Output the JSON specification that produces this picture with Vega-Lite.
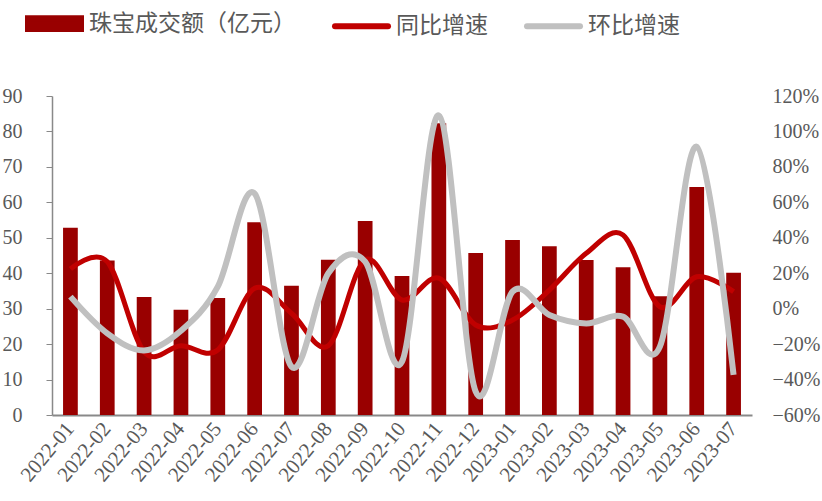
{
  "$schema": "https://vega.github.io/schema/vega-lite/v6.json",
  "width": 700,
  "height": 319,
  "autosize": {"type": "none"},
  "padding": {"left": 52, "top": 96, "right": 70, "bottom": 86},
  "background": "white",
  "config": {"view": {"stroke": null}, "font": "Liberation Serif"},
  "data": {"values": [
    {"month": "2022-01", "amount": 52.8, "yoy": 0.224, "mom": 0.068},
    {"month": "2022-02", "amount": 43.6, "yoy": 0.265, "mom": -0.139},
    {"month": "2022-03", "amount": 33.3, "yoy": -0.243, "mom": -0.236},
    {"month": "2022-04", "amount": 29.7, "yoy": -0.209, "mom": -0.125},
    {"month": "2022-05", "amount": 33.0, "yoy": -0.233, "mom": 0.124},
    {"month": "2022-06", "amount": 54.4, "yoy": 0.115, "mom": 0.65},
    {"month": "2022-07", "amount": 36.5, "yoy": -0.026, "mom": -0.327},
    {"month": "2022-08", "amount": 43.8, "yoy": -0.209, "mom": 0.2},
    {"month": "2022-09", "amount": 54.7, "yoy": 0.275, "mom": 0.265},
    {"month": "2022-10", "amount": 39.2, "yoy": 0.049, "mom": -0.299},
    {"month": "2022-11", "amount": 82.3, "yoy": 0.172, "mom": 1.09},
    {"month": "2022-12", "amount": 45.7, "yoy": -0.092, "mom": -0.468},
    {"month": "2023-01", "amount": 49.4, "yoy": -0.064, "mom": 0.096},
    {"month": "2023-02", "amount": 47.6, "yoy": 0.105, "mom": -0.036},
    {"month": "2023-03", "amount": 43.7, "yoy": 0.312, "mom": -0.083},
    {"month": "2023-04", "amount": 41.7, "yoy": 0.416, "mom": -0.045},
    {"month": "2023-05", "amount": 33.5, "yoy": 0.011, "mom": -0.214},
    {"month": "2023-06", "amount": 64.3, "yoy": 0.18, "mom": 0.914},
    {"month": "2023-07", "amount": 40.1, "yoy": 0.096, "mom": -0.374}
  ]},
  "encoding": {
    "x": {
      "field": "month", "type": "ordinal",
      "scale": {"paddingInner": 0.6, "paddingOuter": 0.3},
      "axis": {
        "title": null, "labelAngle": -50, "labelAlign": "right", "labelBaseline": "middle",
        "labelFontSize": 21, "labelColor": "#595959", "labelFont": "Liberation Serif",
        "ticks": false, "domainColor": "#898989", "domainWidth": 2, "labelPadding": 10,
        "labelOverlap": false
      }
    }
  },
  "layer": [
    {
      "mark": {"type": "bar"},
      "encoding": {
        "y": {
          "field": "amount", "type": "quantitative",
          "scale": {"domain": [0, 90], "nice": false},
          "axis": {
            "title": null, "orient": "left", "grid": false,
            "values": [0, 10, 20, 30, 40, 50, 60, 70, 80, 90],
            "tickSize": 6, "tickColor": "#898989", "domainColor": "#898989", "domainWidth": 1.5,
            "labelFontSize": 20, "labelColor": "#595959", "labelFont": "Liberation Serif", "labelPadding": 24,
            "labelOverlap": false
          }
        },
        "color": {
          "datum": "珠宝成交额（亿元）",
          "scale": {
            "domain": ["珠宝成交额（亿元）", "同比增速", "环比增速"],
            "range": ["#990000", "#C00000", "#C0C0C0"]
          },
          "legend": {
            "orient": "none", "legendX": -27, "legendY": -102, "direction": "horizontal",
            "title": null, "padding": 0, "columnPadding": 27,
            "labelFont": "Noto Sans CJK SC", "labelFontSize": 23, "labelColor": "#595959", "labelOffset": 5,
            "labelLimit": 400,
            "symbolSize": 2809, "symbolType": "M-1,0H1", "symbolStrokeWidth": 6,
            "encode": {
              "symbols": {
                "update": {
                  "shape": {"signal": "datum.value === '珠宝成交额（亿元）' ? 'M-1,-0.2H1V0.2H-1Z' : 'M-1,0H1'"},
                  "fill": {"signal": "datum.value === '珠宝成交额（亿元）' ? '#990000' : 'transparent'"},
                  "stroke": {"signal": "datum.value === '珠宝成交额（亿元）' ? 'transparent' : (datum.value === '同比增速' ? '#C00000' : '#C0C0C0')"},
                  "strokeWidth": {"value": 6},
                  "strokeCap": {"value": "round"},
                  "opacity": {"value": 1}
                }
              }
            }
          }
        }
      }
    },
    {
      "layer": [
        {
          "mark": {"type": "line", "interpolate": "cardinal", "strokeWidth": 5},
          "encoding": {
            "y": {
              "field": "yoy", "type": "quantitative",
              "scale": {"domain": [-0.6, 1.2], "nice": false},
              "axis": {
                "title": null, "orient": "right", "grid": false, "format": ".0%",
                "values": [-0.6, -0.4, -0.2, 0, 0.2, 0.4, 0.6, 0.8, 1.0, 1.2],
                "domain": false, "ticks": false, "tickSize": 0,
                "labelFontSize": 20, "labelColor": "#595959", "labelFont": "Liberation Serif",
                "labelPadding": 20, "labelAlign": "left", "labelOverlap": false
              }
            },
            "color": {"datum": "同比增速"}
          }
        },
        {
          "mark": {"type": "line", "interpolate": "cardinal", "strokeWidth": 6},
          "encoding": {
            "y": {
              "field": "mom", "type": "quantitative",
              "axis": {
                "title": null, "orient": "right", "grid": false, "format": ".0%",
                "values": [-0.6, -0.4, -0.2, 0, 0.2, 0.4, 0.6, 0.8, 1.0, 1.2],
                "domain": false, "ticks": false, "tickSize": 0,
                "labelFontSize": 20, "labelColor": "#595959", "labelFont": "Liberation Serif",
                "labelPadding": 20, "labelAlign": "left", "labelOverlap": false
              }
            },
            "color": {"datum": "环比增速"}
          }
        }
      ]
    }
  ],
  "resolve": {"scale": {"y": "independent"}}
}
